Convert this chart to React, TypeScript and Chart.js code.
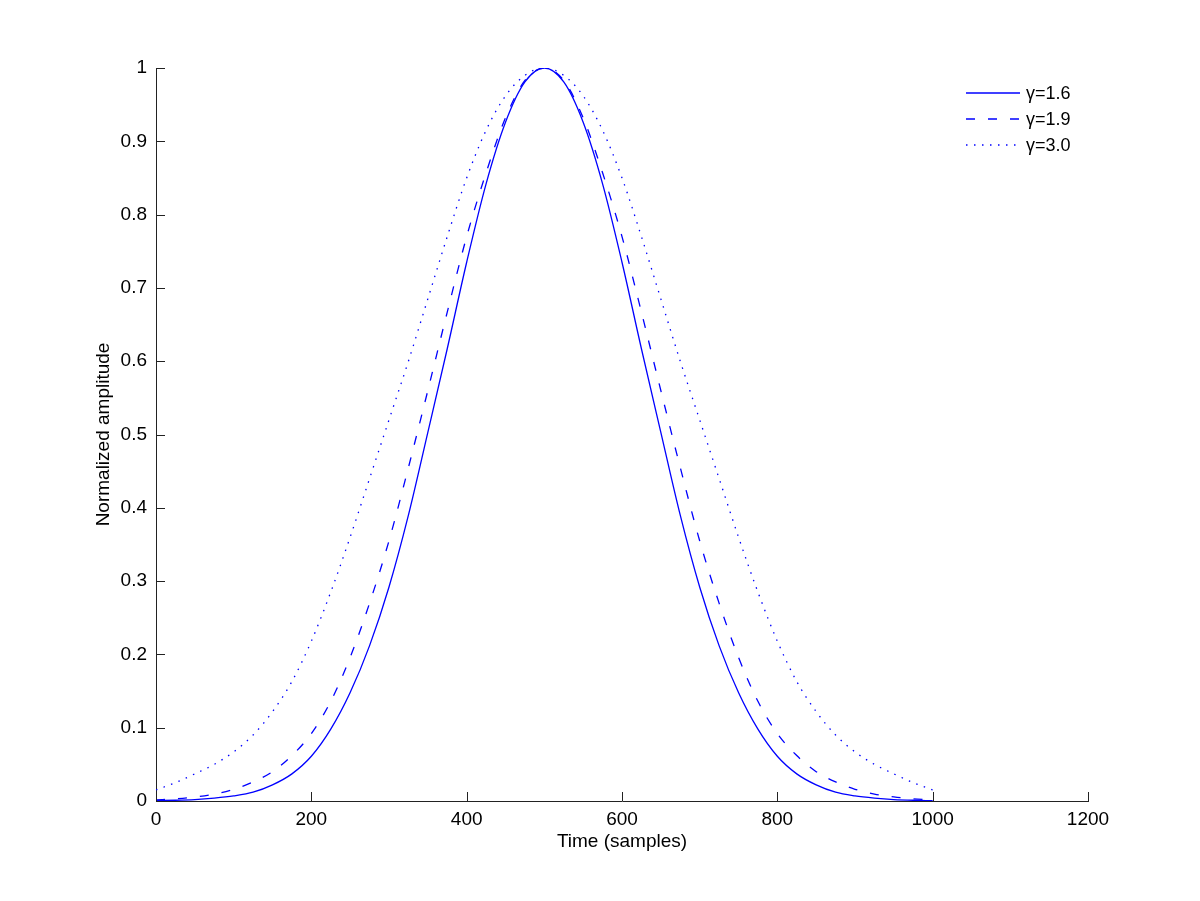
import React, { useEffect, useRef } from "react";
import { Chart, registerables } from "chart.js";

Chart.register(...registerables);

// ---- data ----
const samples = [
  0, 25, 50, 75, 100, 125, 150, 175, 200, 225, 250, 275, 300, 325, 350, 375, 400, 425, 450, 475,
  500, 525, 550, 575, 600, 625, 650, 675, 700, 725, 750, 775, 800, 825, 850, 875, 900, 925, 950, 975, 1000,
];
const gamma16 = [
  0.0005, 0.001, 0.002, 0.004, 0.007, 0.012, 0.022, 0.037, 0.061, 0.098, 0.148, 0.212, 0.292, 0.39, 0.503, 0.617, 0.735, 0.842, 0.926, 0.981,
  1.0, 0.981, 0.926, 0.842, 0.735, 0.617, 0.503, 0.39, 0.292, 0.212, 0.148, 0.098, 0.061, 0.037, 0.022, 0.012, 0.007, 0.004, 0.002, 0.001, 0.0005,
];
const gamma19 = [
  0.0015, 0.003, 0.0055, 0.0095, 0.016, 0.026, 0.04, 0.062, 0.092, 0.136, 0.196, 0.27, 0.355, 0.455, 0.56, 0.667, 0.77, 0.857, 0.932, 0.983,
  1.0, 0.983, 0.932, 0.857, 0.77, 0.667, 0.56, 0.455, 0.355, 0.27, 0.196, 0.136, 0.092, 0.062, 0.04, 0.026, 0.016, 0.0095, 0.0055, 0.003, 0.0015,
];
const gamma30 = [
  0.015, 0.025, 0.037, 0.05, 0.067, 0.09, 0.122, 0.163, 0.218, 0.285, 0.36, 0.44, 0.52, 0.6, 0.685, 0.77, 0.85, 0.915, 0.962, 0.99,
  1.0, 0.99, 0.962, 0.915, 0.85, 0.77, 0.685, 0.6, 0.52, 0.44, 0.36, 0.285, 0.218, 0.163, 0.122, 0.09, 0.067, 0.05, 0.037, 0.025, 0.015,
];
const seriesLabels = ["\u03b3=1.6", "\u03b3=1.9", "\u03b3=3.0"];
const xTickValues = [0, 200, 400, 600, 800, 1000, 1200];
const xTickLabels = ["0", "200", "400", "600", "800", "1000", "1200"];
const yTickValues = [0, 0.1, 0.2, 0.3, 0.4, 0.5, 0.6, 0.7, 0.8, 0.9, 1];
const yTickLabels = ["0", "0.1", "0.2", "0.3", "0.4", "0.5", "0.6", "0.7", "0.8", "0.9", "1"];
const xTitle = "Time (samples)";
const yTitle = "Normalized amplitude";

const FONT = "'Liberation Sans', Arial, Helvetica, sans-serif";
const FONT_SIZE = 19;
const BLUE = "#0000ff";

const toPoints = (ys: number[]) => samples.map((x, i) => ({ x, y: ys[i] }));

const inwardTicks = {
  id: "inwardTicks",
  afterDatasetsDraw(chart: any) {
    const { ctx, chartArea } = chart;
    const xs = chart.scales.x;
    const ys = chart.scales.y;
    ctx.save();
    ctx.strokeStyle = "#222";
    ctx.lineWidth = 1;
    ctx.setLineDash([]);
    const len = 9;
    xs.ticks.forEach((t: any) => {
      const px = Math.round(xs.getPixelForValue(t.value)) + 0.5;
      ctx.beginPath();
      ctx.moveTo(px, chartArea.bottom);
      ctx.lineTo(px, chartArea.bottom - len);
      ctx.stroke();
    });
    ys.ticks.forEach((t: any) => {
      const py = Math.round(ys.getPixelForValue(t.value)) + 0.5;
      ctx.beginPath();
      ctx.moveTo(chartArea.left, py);
      ctx.lineTo(chartArea.left + len, py);
      ctx.stroke();
    });
    ctx.restore();
  },
};

const customLegend = {
  id: "customLegend",
  afterDatasetsDraw(chart: any) {
    const { ctx, chartArea } = chart;
    ctx.save();
    const x0 = chartArea.right - 122;
    const x1 = chartArea.right - 68;
    const tx = chartArea.right - 62;
    chart.data.datasets.forEach((ds: any, i: number) => {
      const y = chartArea.top + 25 + i * 26;
      ctx.strokeStyle = ds.borderColor;
      ctx.lineWidth = ds.borderWidth;
      ctx.setLineDash(ds.borderDash || []);
      ctx.beginPath();
      ctx.moveTo(x0, y);
      ctx.lineTo(x1, y);
      ctx.stroke();
      ctx.setLineDash([]);
      ctx.fillStyle = "#000";
      ctx.font = `18px ${FONT}`;
      ctx.textAlign = "left";
      ctx.textBaseline = "middle";
      ctx.fillText(ds.label, tx, y + 1);
    });
    ctx.restore();
  },
};

export default function App() {
  const ref = useRef<HTMLCanvasElement | null>(null);

  useEffect(() => {
    if (!ref.current) return;
    const common = {
      borderColor: BLUE,
      borderWidth: 1.3,
      pointRadius: 0,
      fill: false,
      cubicInterpolationMode: "monotone",
    };
    const chart = new Chart(ref.current, {
      type: "line",
      data: {
        datasets: [
          { ...common, label: seriesLabels[0], data: toPoints(gamma16), borderDash: [] },
          { ...common, label: seriesLabels[1], data: toPoints(gamma19), borderDash: [9, 13] },
          { ...common, label: seriesLabels[2], data: toPoints(gamma30), borderDash: [1.5, 6.5] },
        ],
      },
      options: {
        responsive: false,
        animation: false,
        events: [],
        layout: { padding: { top: 68, right: 112, left: 0, bottom: 0 } },
        plugins: {
          legend: { display: false },
          tooltip: { enabled: false },
          title: { display: false },
        },
        scales: {
          x: {
            type: "linear",
            min: 0,
            max: 1200,
            afterBuildTicks: (scale: any) => {
              scale.ticks = xTickValues.map((v) => ({ value: v }));
            },
            afterFit: (scale: any) => {
              scale.height = 100;
            },
            grid: { display: false, drawTicks: false },
            border: { display: true, color: "#222", width: 1 },
            ticks: {
              color: "#000",
              font: { family: FONT, size: FONT_SIZE },
              padding: 7,
              maxRotation: 0,
              autoSkip: false,
              callback: (v: any) => {
                const i = xTickValues.indexOf(Number(v));
                return i >= 0 ? xTickLabels[i] : "";
              },
            },
            title: {
              display: true,
              text: xTitle,
              color: "#000",
              font: { family: FONT, size: FONT_SIZE },
              padding: { top: 0, bottom: 47.6 },
            },
          },
          y: {
            type: "linear",
            min: 0,
            max: 1,
            afterBuildTicks: (scale: any) => {
              scale.ticks = yTickValues.map((v) => ({ value: v }));
            },
            afterFit: (scale: any) => {
              scale.width = 156;
            },
            grid: { display: false, drawTicks: false },
            border: { display: true, color: "#222", width: 1 },
            ticks: {
              color: "#000",
              font: { family: FONT, size: FONT_SIZE },
              padding: 9,
              autoSkip: false,
              callback: (v: any) => {
                const i = yTickValues.findIndex((t) => Math.abs(t - Number(v)) < 1e-9);
                return i >= 0 ? yTickLabels[i] : "";
              },
            },
            title: {
              display: true,
              text: yTitle,
              color: "#000",
              font: { family: FONT, size: FONT_SIZE },
              padding: { top: 92.6, bottom: 0 },
            },
          },
        },
      },
      plugins: [inwardTicks, customLegend],
    } as any);
    return () => chart.destroy();
  }, []);

  return (
    <div style={{ position: "fixed", left: 0, top: 0, width: 1200, height: 901, background: "#fff" }}>
      <canvas ref={ref} width={1200} height={901} style={{ width: 1200, height: 901, display: "block" }} />
    </div>
  );
}
